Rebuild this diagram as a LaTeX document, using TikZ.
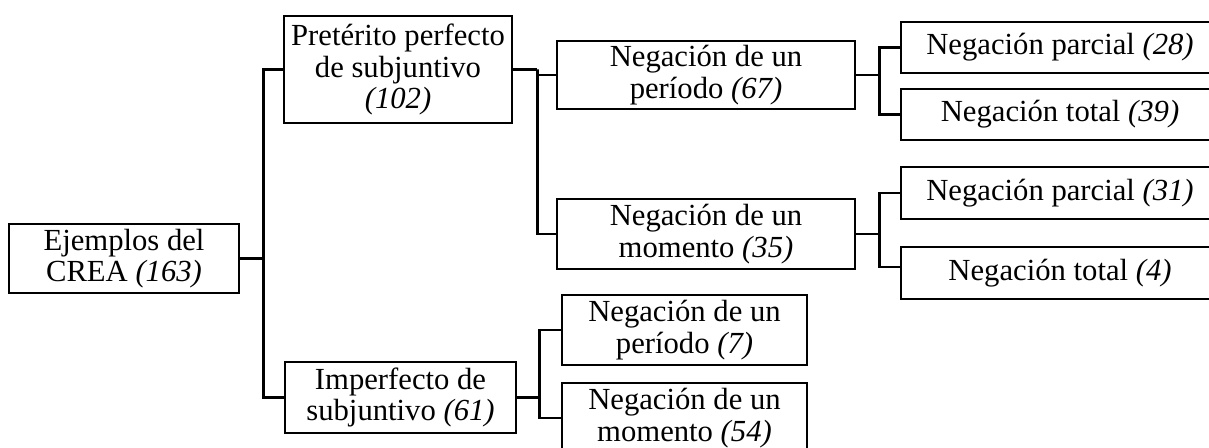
\documentclass[tikz,border=0pt]{standalone}
\usepackage{fontspec}
\setmainfont{Liberation Serif}
\begin{document}
\begin{tikzpicture}[x=0.75pt,y=-0.75pt,
  box/.style={draw, line width=2.2pt, inner sep=0pt, align=center,
    font=\fontsize{23}{23.6}\selectfont},
  conn/.style={line width=2.2pt}]
\useasboundingbox (0,0) rectangle (1209,448);
\clip (0,0) rectangle (1209,448);
\node[box, minimum width=172.5pt, minimum height=51.75pt] (b1) at (124,258.5) {Ejemplos del\\CREA \textit{(163)}};
\node[box, minimum width=171pt, minimum height=80.25pt] (b2) at (398,69.5) {Pretérito perfecto\\de subjuntivo\\\textit{(102)}};
\node[box, minimum width=223.5pt, minimum height=51pt] (b3) at (706,75) {Negación de un\\período \textit{(67)}};
\node[box, minimum width=238.5pt, minimum height=38.25pt] (b4) at (1060,47.5) {Negación parcial \textit{(28)}};
\node[box, minimum width=238.5pt, minimum height=38.25pt] (b5) at (1060,114.5) {Negación total \textit{(39)}};
\node[box, minimum width=223.5pt, minimum height=52.5pt] (b6) at (706,234) {Negación de un\\momento \textit{(35)}};
\node[box, minimum width=238.5pt, minimum height=39pt] (b7) at (1060,193) {Negación parcial \textit{(31)}};
\node[box, minimum width=238.5pt, minimum height=39pt] (b8) at (1060,273) {Negación total \textit{(4)}};
\node[box, minimum width=173.25pt, minimum height=53.25pt] (b9) at (400.5,397.5) {Imperfecto de\\subjuntivo \textit{(61)}};
\node[box, minimum width=183.75pt, minimum height=52.5pt] (b10) at (684.5,330) {Negación de un\\período \textit{(7)}};
\node[box, minimum width=183.75pt, minimum height=52.5pt] (b11) at (684.5,418) {Negación de un\\momento \textit{(54)}};
\draw[conn] (b1.east) -- ++(23,0) coordinate (j1);
\draw[conn] (b2.west) -| (j1) |- (b9.west);
\draw[conn] (b2.east) -- ++(24,0) coordinate (j2);
\draw[conn] (b3.west) -| (j2) |- (b6.west);
\draw[conn] (b3.east) -- ++(23,0) coordinate (j3);
\draw[conn] (b4.west) -| (j3) |- (b5.west);
\draw[conn] (b6.east) -- ++(23,0) coordinate (j4);
\draw[conn] (b7.west) -| (j4) |- ([yshift=4.5pt]b8.west);
\draw[conn] (b9.east) -- ++(22,0) coordinate (j5);
\draw[conn] (b10.west) -| (j5) |- (b11.west);
\end{tikzpicture}
\end{document}
